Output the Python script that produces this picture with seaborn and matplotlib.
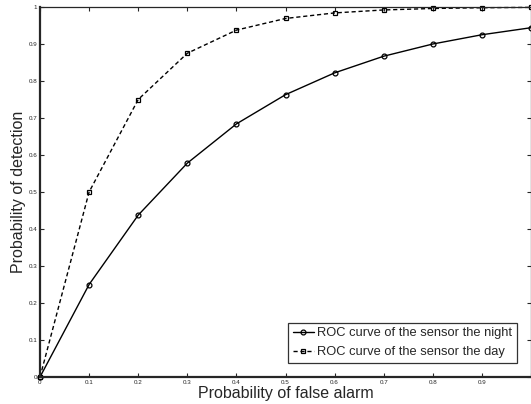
import numpy as np
import pandas as pd
import seaborn as sns
import matplotlib.pyplot as plt

false_alarm = [0, 0.1, 0.2, 0.3, 0.4, 0.5, 0.6, 0.7, 0.8, 0.9, 1.0]
detect_night = [0, 0.25, 0.4375, 0.578, 0.684, 0.763, 0.822, 0.867, 0.9, 0.925, 0.944]
detect_day = [0, 0.5, 0.75, 0.875, 0.9375, 0.969, 0.984, 0.992, 0.996, 0.998, 0.999]
labels = ["ROC curve of the sensor the night", "ROC curve of the sensor the day"]

df = pd.DataFrame({
    "pfa": false_alarm * 2,
    "pd": detect_night + detect_day,
    "curve": [labels[0]] * len(false_alarm) + [labels[1]] * len(false_alarm),
})

sns.set_style("ticks")
plt.rcParams['font.family'] = ['Liberation Sans', 'DejaVu Sans']

fig = plt.figure(figsize=(5.31, 4.04), dpi=100)
ax = fig.add_axes([40 / 531, 27 / 404, 491 / 531, 370 / 404])

sns.lineplot(data=df, x="pfa", y="pd", hue="curve", style="curve",
             palette=["black", "black"], markers=["o", "s"],
             dashes=[(None, None), (3, 2)], ax=ax, linewidth=1,
             markersize=3.5, markerfacecolor="none", markeredgecolor="black",
             markeredgewidth=0.9, clip_on=False)

ax.set_xlim(0, 1)
ax.set_ylim(0, 1)
ax.set_xticks(np.arange(0, 1.01, 0.1))
ax.set_yticks(np.arange(0, 1.01, 0.1))
ax.set_xticklabels(["0", "0.1", "0.2", "0.3", "0.4", "0.5", "0.6", "0.7", "0.8", "0.9", ""])
ax.set_yticklabels(["0", "0.1", "0.2", "0.3", "0.4", "0.5", "0.6", "0.7", "0.8", "0.9", "1"])
ax.tick_params(direction="in", length=3, width=0.8, labelsize=4.5,
               top=True, right=True, pad=2)
for side in ["left", "bottom"]:
    ax.spines[side].set_linewidth(1.6)
for side in ["top", "right"]:
    ax.spines[side].set_linewidth(0.9)

ax.set_xlabel("Probability of false alarm", fontsize=11.5, labelpad=1)
ax.set_ylabel("Probability of detection", fontsize=11.5, labelpad=2)

leg = ax.legend(loc="lower right", bbox_to_anchor=(0.9715, 0.038), fontsize=9.3,
                frameon=True, fancybox=False, handlelength=1.6,
                handletextpad=0.3, borderpad=0.35, labelspacing=0.55,
                borderaxespad=0)
leg.get_frame().set_edgecolor("black")
leg.get_frame().set_linewidth(0.9)

fig.savefig("out.png", dpi=100)
